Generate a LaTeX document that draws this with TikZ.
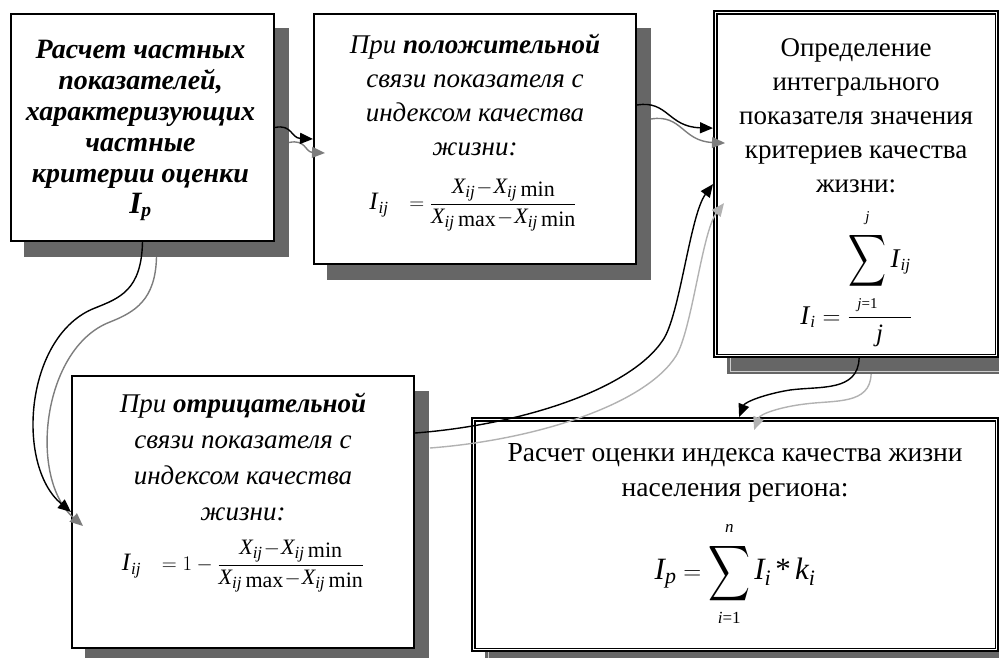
\documentclass[tikz,border=0pt]{standalone}
\usepackage{fontspec}
\setmainfont{Liberation Serif}
\usepackage{amsmath}
\usepackage{graphicx}
\usetikzlibrary{calc,arrows.meta}
\pgfdeclarelayer{bg}
\pgfsetlayers{bg,main}
\definecolor{shade}{RGB}{102,102,102}
\definecolor{arrA}{RGB}{125,125,125}
\definecolor{arrB}{RGB}{178,178,178}
\definecolor{shline}{RGB}{205,205,205}
\newcommand\mv[1]{\textit{#1}}
\newcommand\bI[1]{\mbox{\fontsize{#1}{#1}\selectfont\textit{I}}}
\newcommand\lo[1]{\,\raisebox{-0.35ex}{\textrm{#1}}}
\newcommand\sbx[2]{_{\mbox{\fontsize{#1}{#1}\selectfont\textit{#2}}}}
\newcommand\limup[2]{\mbox{\raisebox{5pt}{\fontsize{#1}{#1}\selectfont#2}}}
\newcommand\limdn[2]{\mbox{\raisebox{-4pt}{\fontsize{#1}{#1}\selectfont#2}}}
\newcommand\bigsum[4]{\mathop{\vcenter{\hbox{\resizebox*{#1}{#2}{$\displaystyle\sum$}}}}\limits_{#3}^{#4}}
\begin{document}
\begin{tikzpicture}[x=1pt,y=-1pt,line join=miter,
  box/.style={draw=black,line width=2pt,fill=white,inner sep=0pt,anchor=north west},
  dbox/.style={draw=black,line width=2.2pt,fill=white,inner sep=0pt,anchor=north west},
  inner/.style={draw=black,line width=1.2pt},
  shadowbox/.style={fill=shade},
  shadowline/.style={draw=shline,line width=0.8pt},
  ar/.style={line width=1.4pt,-{Triangle[length=13pt,width=11pt]}},
  txt/.style={align=center,inner sep=0pt},
]
\useasboundingbox (0,0) rectangle (999,658);
\clip (0,0) rectangle (999,658);

% boxes
\node[box,minimum width=263pt,minimum height=227pt] (b1) at (10,13) {};
\node[box,minimum width=322pt,minimum height=250pt] (b2) at (313,13) {};
\node[dbox,minimum width=284pt,minimum height=346pt] (b3) at (713,10) {};
\node[box,minimum width=342pt,minimum height=272pt] (b4) at (71,375) {};
\node[dbox,minimum width=526pt,minimum height=233pt] (b5) at (471,417) {};
\draw[inner] ($(b3.north west)+(4,4)$) rectangle ($(b3.south east)+(-4,-4)$);
\draw[inner] ($(b5.north west)+(4,4)$) rectangle ($(b5.south east)+(-4,-4)$);

% shadows
\begin{pgfonlayer}{bg}
\fill[shadowbox] ($(b1.south west)+(14,15)$) rectangle ($(b1.north east)+(14,15)$);
\fill[shadowbox] ($(b2.south west)+(14,15)$) rectangle ($(b2.north east)+(14,15)$);
\fill[shadowbox] ($(b4.south west)+(14,16)$) rectangle ($(b4.north east)+(14,16)$);
\fill[shadowbox] ($(b3.south west)+(14,16)$) rectangle ($(b3.north east)+(14,16)$);
\draw[shadowline] ($(b3.south west)+(17,13)$) rectangle ($(b3.north east)+(11,19)$);
\fill[shadowbox] ($(b5.south west)+(14,16)$) rectangle ($(b5.north east)+(14,16)$);
\draw[shadowline] ($(b5.south west)+(17,13)$) rectangle ($(b5.north east)+(11,19)$);
\end{pgfonlayer}

% texts
\node[txt,font={\bfseries\itshape\fontsize{28}{31}\selectfont}] (t1) at ($(b1.center)+(-2,3)$)
  {Расчет частных\\показателей,\\характеризующих\\частные\\критерии оценки\\{\fontsize{31}{31}\selectfont\textit{I}}\textsubscript{\textit{p}}};
\node[txt,font={\itshape\fontsize{27}{34}\selectfont}] (t2) at ($(b2.north)+(0,82)$)
  {При \textbf{положительной}\\связи показателя с\\индексом качества\\жизни:};
\node[txt,font=\fontsize{22}{28}\selectfont] (f2) at ($(b2.north)+(-2,192)$)
  {$\bI{25}\sbx{17}{ij}\;\;\,=\dfrac{\mv{X}\sbx{17}{ij}\!-\!\mv{X}\sbx{17}{ij}\lo{min}}{\mv{X}\sbx{17}{ij}\lo{max}\!-\!\mv{X}\sbx{17}{ij}\lo{min}}$};
\node[txt,font=\fontsize{27}{34}\selectfont] (t3) at ($(b3.north)+(0,106)$)
  {Определение\\интегрального\\показателя значения\\критериев качества\\жизни:};
\node[txt,font=\fontsize{25}{30}\selectfont] (f3) at ($(b3.north)+(0,268)$)
  {$\bI{27}\sbx{17}{i}=\dfrac{\bigsum{38pt}{58pt}{\limdn{15}{\textit{j}=1}}{\limup{15}{\textit{j}}}\bI{27}\sbx{17}{ij}}{\mv{j}}$};
\node[txt,font={\itshape\fontsize{27}{36}\selectfont}] (t4) at ($(b4.north)+(0,82)$)
  {При \textbf{отрицательной}\\связи показателя с\\индексом качества\\жизни:};
\node[txt,font=\fontsize{22}{28}\selectfont] (f4) at ($(b4.north)+(0,191)$)
  {$\bI{25}\sbx{17}{ij}\;\;\,=1-\dfrac{\mv{X}\sbx{17}{ij}\!-\!\mv{X}\sbx{17}{ij}\lo{min}}{\mv{X}\sbx{17}{ij}\lo{max}\!-\!\mv{X}\sbx{17}{ij}\lo{min}}$};
\node[txt,font=\fontsize{27.5}{35}\selectfont] (t5) at ($(b5.north)+(0,56)$)
  {Расчет оценки индекса качества жизни\\населения региона:};
\node[txt,font=\fontsize{31}{38}\selectfont] (f5) at ($(b5.north)+(0,157)$)
  {$\mv{I}\sbx{22}{p}=\bigsum{42pt}{62pt}{\limdn{17}{\textit{i}=1}}{\limup{17}{\textit{n}}}\mv{I}\sbx{22}{i}\,\mbox{*}\,\mv{k}\sbx{22}{i}$};

% connectors: grey shadows first
\draw[ar,arrA] ($(b1.east)+(14,15)$) .. controls (306,139) and (305,152) .. ($(b2.west)+(12,14)$);
\draw[ar,arrA] ($(b2.east)+(14,-20)$) .. controls (682,114) and (682,141) .. ($(b3.west)+(12,-41)$);
\draw[ar,arrA] ($(b1.south)+(14,15)$) .. controls (155.5,300) and (135,312) .. (110,322)
  .. controls (42,348) and (28,478) .. ($(b4.west)+(12,14)$);
\draw[ar,arrB] ($(b4.east)+(15,-64)$) .. controls (535,440) and (645,405) .. (676,356)
  .. controls (692,330) and (702,232) .. ($(b3.west)+(11,19)$);
\draw[ar,arrB] ($(b3.south)+(15,16)$) .. controls (870,405) and (835,400) .. (805,404)
  .. controls (780,407) and (760,414) .. ($(b5.north)+(19,13)$);

\draw[ar] (b1.east) .. controls (292,124) and (291,138) .. (b2.west);
\draw[ar] ($(b2.east)+(0,-34)$) .. controls (668,100) and (668,127) .. ($(b3.west)+(0,-56)$);
\draw[ar] (b1.south) .. controls (141.5,290) and (120,298) .. (95,308)
  .. controls (25,335) and (15,465) .. (b4.west);
\draw[ar] ($(b4.east)+(0,-79)$) .. controls (520,425) and (630,390) .. (663,340)
  .. controls (680,315) and (690,215) .. (b3.west);
\draw[ar] ($(b3.south)+(3,0)$) .. controls (858,392) and (820,386) .. (790,390)
  .. controls (765,394) and (745,402) .. ($(b5.north)+(4,0)$);
\end{tikzpicture}
\end{document}
